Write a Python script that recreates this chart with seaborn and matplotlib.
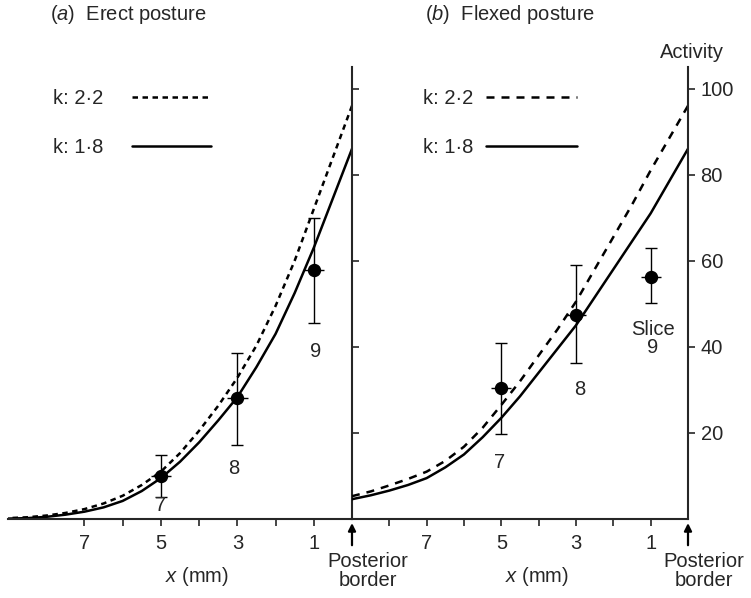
import numpy as np
import pandas as pd
import matplotlib
matplotlib.use("Agg")
import matplotlib.pyplot as plt
import seaborn as sns

# distance from posterior border (mm)
dist_mm = [9, 8.5, 8, 7.5, 7, 6.5, 6, 5.5, 5, 4.5, 4, 3.5, 3, 2.5, 2, 1.5, 1, 0.5, 0]

# model curves
erect_k22 = [0.2, 0.4, 0.8, 1.4, 2.3, 3.6, 5.4, 7.9, 11, 15.3, 20.5, 26.3, 32.8, 40.3, 49.5, 60, 72, 84, 96]
erect_k18 = [0.1, 0.2, 0.5, 1.0, 1.7, 2.7, 4.2, 6.5, 9.5, 13.3, 17.8, 22.9, 28.3, 35.3, 43, 52.5, 63, 74.5, 86]
flexed_k22 = [5.3, 6.4, 7.8, 9.3, 11, 13.5, 16.8, 21.2, 26.5, 32, 38, 44, 50.5, 58, 65.5, 73, 81, 88.5, 96]
flexed_k18 = [4.6, 5.5, 6.6, 7.9, 9.5, 12, 15, 19, 23.5, 28.5, 34, 39.5, 45, 51.5, 58, 64.5, 71, 78.5, 86]

# measured slices 7, 8, 9
slice_x = [5, 3, 1]
erect_mean = [10, 28, 57.8]
erect_low = [5.1, 17.2, 45.5]
erect_high = [14.8, 38.5, 70]
flexed_mean = [30.4, 47.3, 56.2]
flexed_low = [19.7, 36.2, 50.1]
flexed_high = [40.8, 59, 62.9]

erect_labels = ["7", "8", "9"]
erect_label_x = [5, 3.1, 0.95]
erect_label_y = [3.2, 11.8, 39]
flexed_labels = ["7", "8", "Slice\n9"]
flexed_label_x = [5.05, 2.9, 0.95]
flexed_label_y = [13.2, 30, 42]

k_levels = ["k: 2·2", "k: 1·8"]
FS = 14.5

sns.set_style("ticks")
plt.rcParams["font.family"] = ["Liberation Sans", "DejaVu Sans"]
plt.rcParams["mathtext.fontset"] = "custom"
plt.rcParams["mathtext.rm"] = "Liberation Sans"
plt.rcParams["mathtext.it"] = "Liberation Sans:italic"
plt.rcParams["font.size"] = FS

W, H = 751, 598
fig = plt.figure(figsize=(W / 100, H / 100), dpi=100)
ax1 = fig.add_axes([8 / W, 79 / H, 344 / W, 452 / H])
ax2 = fig.add_axes([352 / W, 79 / H, 336 / W, 452 / H], sharey=ax1)
ax2.patch.set_visible(False)


def draw_panel(ax, k22, k18, mean, low, high, dash, lab_x, lab_y, labs):
    n = len(dist_mm)
    df = pd.DataFrame({
        "x": dist_mm + dist_mm,
        "activity": k22 + k18,
        "k": [k_levels[0]] * n + [k_levels[1]] * n,
    })
    sns.lineplot(data=df, x="x", y="activity", style="k", style_order=k_levels,
                 dashes={k_levels[0]: dash, k_levels[1]: ""}, color="black",
                 linewidth=1.8, estimator=None, legend=False, ax=ax)
    mean = np.array(mean)
    yerr = [mean - np.array(low), np.array(high) - mean]
    ax.errorbar(slice_x, mean, yerr=yerr, fmt="none", ecolor="black",
                elinewidth=1.0, capsize=4.3, capthick=1.0)
    ax.errorbar(slice_x, mean, xerr=0.27, fmt="o", color="black",
                markersize=8.6, elinewidth=1.0, capsize=0)
    for x, y, t in zip(lab_x, lab_y, labs):
        ax.text(x, y, t, ha="center", va="center", fontsize=FS, linespacing=0.95)

    ax.set_xlim(9, 0)
    ax.set_ylim(0, 105)
    ax.set_xticks([7, 5, 3, 1])
    ax.tick_params(axis="x", direction="out", length=5, width=1.2, pad=6, labelsize=FS)
    ax.tick_params(axis="x", which="minor", direction="out", length=5, width=1.2)
    ax.set_xlabel(r"$\mathit{x}$ (mm)", fontsize=FS)
    ax.xaxis.set_label_coords(0.55, -0.128)
    ax.xaxis.label.set_va("center")
    ax.set_ylabel("")
    for s in ["top", "left"]:
        ax.spines[s].set_visible(False)
    ax.spines["bottom"].set_linewidth(1.5)
    ax.spines["right"].set_linewidth(1.5)
    ax.yaxis.tick_right()
    ax.set_yticks([20, 40, 60, 80, 100])
    ax.tick_params(axis="y", direction="out", length=5, width=1.2, pad=4, labelsize=FS)

    tr = ax.get_xaxis_transform()
    ax.annotate("", xy=(0, -0.009), xycoords=tr, xytext=(0, -0.058), textcoords=tr,
                arrowprops=dict(arrowstyle="-|>", color="black", lw=1.6,
                                mutation_scale=11, shrinkA=0, shrinkB=0),
                annotation_clip=False)
    ax.text(-0.42, -0.115, "Posterior\nborder", transform=tr, ha="center",
            va="center", fontsize=FS, linespacing=0.95, clip_on=False)


draw_panel(ax1, erect_k22, erect_k18, erect_mean, erect_low, erect_high,
           (2.2, 1.8), erect_label_x, erect_label_y, erect_labels)
draw_panel(ax2, flexed_k22, flexed_k18, flexed_mean, flexed_low, flexed_high,
           (3.2, 2.8), flexed_label_x, flexed_label_y, flexed_labels)

ax1.set_xticks([6, 4, 2], minor=True)
ax2.set_xticks([8, 6, 4, 2], minor=True)
ax1.tick_params(axis="y", labelright=False)

# legends: text first, then line
ax1.legend(ax1.lines[:2], k_levels, markerfirst=False, frameon=False,
           loc="upper left", bbox_to_anchor=(0.131, 0.951), borderaxespad=0,
           borderpad=0, handlelength=3.95, handletextpad=1.4, labelspacing=1.48,
           fontsize=FS)
ax2.legend(ax2.lines[:2], k_levels, markerfirst=False, frameon=False,
           loc="upper left", bbox_to_anchor=(0.211, 0.951), borderaxespad=0,
           borderpad=0, handlelength=4.5, handletextpad=0.65, labelspacing=1.48,
           fontsize=FS)

fig.text(50 / W, 1 - 15 / H, r"($\mathit{a}$)  Erect posture", fontsize=FS, va="center")
fig.text(425 / W, 1 - 15 / H, r"($\mathit{b}$)  Flexed posture", fontsize=FS, va="center")
fig.text(692 / W, 1 - 52 / H, "Activity", fontsize=FS, ha="center", va="center")

fig.savefig("out.png", dpi=100, facecolor="white")
